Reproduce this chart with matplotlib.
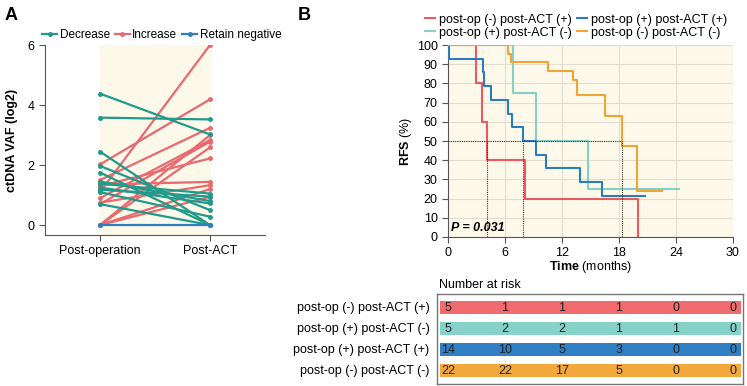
import numpy as np
import matplotlib
matplotlib.use("Agg")
import matplotlib.pyplot as plt

plt.rcParams['font.family'] = ['Liberation Sans', 'DejaVu Sans']
plt.rcParams['mathtext.fontset'] = 'custom'
plt.rcParams['mathtext.rm'] = 'Liberation Sans'
plt.rcParams['mathtext.bf'] = 'Liberation Sans:bold'
plt.rcParams['mathtext.it'] = 'Liberation Sans:italic'

# ---- panel A data (log2 VAF, post-operation -> post-ACT)
dec_pre = [4.38, 3.58, 2.45, 1.97, 1.75, 1.45, 1.38, 1.25, 1.18, 1.10, 0.70]
dec_post = [3.02, 3.52, 0.00, 0.50, 0.00, 0.80, 1.05, 0.72, 0.95, 0.28, 0.00]
inc_pre = [1.10, 2.02, 1.50, 0.90, 0.70, 0.00, 1.30, 1.35, 0.75, 0.00, 0.00, 0.00]
inc_post = [6.00, 4.19, 3.24, 2.83, 2.78, 2.59, 2.22, 1.44, 1.33, 0.94, 1.20, 3.00]
neg_pre = [0.0]
neg_post = [0.0]
timepoints = ["Post-operation", "Post-ACT"]

# ---- panel B data (Kaplan-Meier steps, months / RFS %)
groups = ["post-op (-) post-ACT (+)", "post-op (+) post-ACT (-)",
          "post-op (+) post-ACT (+)", "post-op (-) post-ACT (-)"]
km_t = [
    [0, 2.9, 3.6, 4.1, 8.1, 20.0],
    [0, 6.8, 9.3, 14.7, 24.3],
    [0, 0.15, 3.65, 3.8, 4.5, 6.3, 6.7, 7.9, 9.3, 10.3, 13.9, 16.2, 20.7],
    [0, 6.3, 6.6, 10.5, 13.2, 13.6, 16.5, 18.3, 19.9, 22.5],
]
km_s = [
    [100, 80, 60, 40, 20, 0],
    [100, 75, 50, 25, 25],
    [100, 92.9, 85.7, 78.6, 71.4, 64.3, 57.1, 50, 42.9, 35.7, 28.6, 21.4, 21.4],
    [100, 95.5, 90.9, 86.4, 81.8, 73.7, 63.2, 47.4, 23.7, 23.7],
]
medians = [4.1, 7.9, 18.3]
risk_times = [0, 6, 12, 18, 24, 30]
at_risk = [
    [5, 1, 1, 1, 0, 0],
    [5, 2, 2, 1, 1, 0],
    [14, 10, 5, 3, 0, 0],
    [22, 22, 17, 5, 0, 0],
]

bg = "#fdf9ea"
c_dec, c_inc, c_neg = "#1f9a8b", "#e8696f", "#2e7ebf"
line_cols = ["#ea5a60", "#84d0c7", "#2c7bbf", "#efa534"]
bar_cols = ["#f06b6e", "#86d2c9", "#2f7fc4", "#f2a83b"]
W, H = 747, 386
fs = 9

fig = plt.figure(figsize=(W / 100, H / 100), dpi=100)


def frac(l, t, r, b):
    return [l / W, 1 - b / H, (r - l) / W, (b - t) / H]


# ================= panel A
axA = fig.add_axes(frac(45, 45, 265, 235))
axA.axvspan(0, 1, ymin=0, ymax=1, color=bg, zorder=0)
for a, b in zip(inc_pre, inc_post):
    axA.plot([0, 1], [a, b], color=c_inc, lw=1.6, marker="o", ms=2.5, zorder=2)
for a, b in zip(dec_pre, dec_post):
    axA.plot([0, 1], [a, b], color=c_dec, lw=1.6, marker="o", ms=2.5, zorder=3)
for a, b in zip(neg_pre, neg_post):
    axA.plot([0, 1], [a, b], color=c_neg, lw=1.6, marker="o", ms=2.5, zorder=4)
axA.set_xlim(-0.5, 1.5)
axA.set_ylim(-0.33, 6)
axA.set_yticks([0, 2, 4, 6])
axA.set_xticks([0, 1])
axA.set_xticklabels(timepoints)
for s in ["top", "right"]:
    axA.spines[s].set_visible(False)
for s in ["left", "bottom"]:
    axA.spines[s].set_color("#555555")
axA.tick_params(labelsize=fs, colors="#555555", labelcolor="black", length=4)
axA.set_ylabel("ctDNA VAF (log2)", fontsize=fs, fontweight="bold", labelpad=7)
hA = [plt.Line2D([], [], color=c, lw=1.6, marker="o", ms=2.5) for c in (c_dec, c_inc, c_neg)]
axA.legend(hA, ["Decrease", "Increase", "Retain negative"], ncol=3, frameon=False,
           loc="lower left", bbox_to_anchor=(-0.04, 0.99), fontsize=8.5,
           handlelength=1.3, handletextpad=0.2, columnspacing=0.4, borderpad=0)

# ================= panel B
axB = fig.add_axes(frac(448, 45, 733, 237))
axB.set_facecolor(bg)
axB.grid(True, color="#e2dfd2", lw=0.8)
axB.set_axisbelow(True)
for i in range(4):
    axB.step(km_t[i], km_s[i], where="post", color=line_cols[i], lw=1.5, zorder=3)
axB.plot([0, max(medians)], [50, 50], color="#333333", lw=0.8, ls=(0, (1, 1)), zorder=4)
for m in medians:
    axB.plot([m, m], [0, 50], color="#333333", lw=0.8, ls=(0, (1, 1)), zorder=4)
axB.text(0.3, 3, "P = 0.031", fontsize=fs, fontweight="bold", fontstyle="italic", zorder=5)
axB.set_xlim(0, 30)
axB.set_ylim(0, 100)
axB.set_xticks(risk_times)
axB.set_yticks(range(0, 101, 10))
for s in ["top", "right"]:
    axB.spines[s].set_visible(False)
for s in ["left", "bottom"]:
    axB.spines[s].set_color("#555555")
axB.tick_params(labelsize=fs, colors="#555555", labelcolor="black", length=4)
axB.set_ylabel(r"$\bf{RFS}$ (%)", fontsize=fs, labelpad=2)
axB.set_xlabel(r"$\bf{Time}$ (months)", fontsize=fs, labelpad=0)
hB = [plt.Line2D([], [], color=line_cols[i], lw=1.5) for i in range(4)]
axB.legend(hB, groups, ncol=2, frameon=False,
           loc="lower right", bbox_to_anchor=(1.0, 1.0), fontsize=fs,
           handlelength=0.8, handletextpad=0.3, columnspacing=0.4, borderpad=0,
           labelspacing=0.1)

# ================= number at risk table
axT = fig.add_axes(frac(437, 294, 743, 384))
axT.set_xlim((437 - 448) / 9.5, (743 - 448) / 9.5)
axT.set_ylim(3.62, -0.65)
x0, x1 = (440 - 448) / 9.5, (741 - 448) / 9.5
for i in range(4):
    axT.barh(i, x1 - x0, left=x0, height=0.62, color=bar_cols[i])
    for t, n in zip(risk_times, at_risk[i]):
        axT.text(t, i, str(n), ha="center", va="center", fontsize=fs, color="#222222")
    axT.text(-0.025, i, groups[i], transform=axT.get_yaxis_transform(), ha="right",
             va="center", fontsize=fs)
axT.set_xticks([])
axT.set_yticks([])
for s in axT.spines.values():
    s.set_color("#777777")
    s.set_linewidth(1.0)
axT.text(0.005, 1.03, "Number at risk", transform=axT.transAxes, ha="left", va="bottom",
         fontsize=fs)

fig.text(5 / W, 1 - 16 / H, "A", fontsize=13, fontweight="bold", va="center")
fig.text(298 / W, 1 - 16 / H, "B", fontsize=13, fontweight="bold", va="center")

fig.savefig("out.png", dpi=100)
